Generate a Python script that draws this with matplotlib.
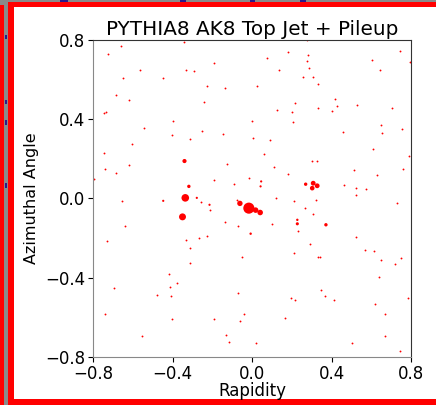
import matplotlib
matplotlib.use("Agg")
import matplotlib.pyplot as plt
from matplotlib.patches import Rectangle

# hard jet constituents: rapidity, azimuth, relative pT
jet_y = [-0.017, 0.017, 0.040, -0.062, -0.337, -0.351, -0.341, -0.319,
         0.307, 0.327, 0.302, 0.269, 0.371, 0.227, 0.227, -0.008,
         0.045, 0.042, -0.279, -0.215, -0.448]
jet_phi = [-0.049, -0.059, -0.071, -0.025, 0.003, -0.093, 0.189, 0.061,
           0.077, 0.064, 0.052, 0.072, -0.133, -0.128, -0.108, -0.178,
           0.086, 0.061, 0.003, -0.032, -0.012]
jet_pt = [64, 16, 16, 15, 30, 25, 9, 6,
          12, 12, 11, 6, 6, 5, 3, 3,
          2.5, 2.5, 2.5, 2.5, 2.5]

# pileup particles, read in pixel-ish order then converted below
pu_zx = [95, 54, 283, 652, 595, 655, 531, 652, 845, 930, 960, 372, 152, 289, 312,
         567, 658, 870, 101, 218, 640, 668, 685, 501, 352, 405, 78, 119, 735, 341,
         614, 800, 740, 726, 907, 43, 50, 562, 605, 685, 250, 485, 610, 872, 162,
         937, 337, 246, 299, 400, 489, 539, 760, 875, 126, 849, 44, 523, 958, 665,
         681, 117, 412, 553, 45, 78, 793, 940, 861, 595, 476, 372, 13, 433, 763,
         799, 828, 797, 558, 611, 922, 98, 441, 333, 359, 677, 646, 668, 545, 406,
         443, 105, 52, 287, 327, 350, 798, 659, 301, 624, 455, 613, 683, 691, 826,
         852, 873, 932, 914, 299, 866, 237, 262, 241, 72, 200, 242, 443, 692, 706,
         602, 614, 733, 954, 855, 45, 461, 884, 371, 451, 246, 585, 156, 409, 416,
         499, 787, 884, 931]
pu_zy = [48, 73, 38, 31, 67, 77, 84, 95, 90, 65, 97, 101, 122, 122, 125,
         122, 114, 122, 145, 144, 141, 143, 164, 170, 170, 175, 196, 211, 207, 217,
         221, 227, 230, 243, 236, 251, 248, 240, 246, 236, 275, 275, 277, 285, 296,
         298, 303, 315, 329, 314, 324, 331, 307, 310, 343, 358, 370, 372, 380, 393,
         393, 405, 404, 411, 418, 430, 420, 419, 437, 434, 444, 451, 449, 463, 467,
         474, 479, 497, 506, 513, 521, 514, 512, 517, 540, 510, 535, 552, 584, 578,
         590, 588, 633, 631, 626, 620, 623, 642, 655, 604, 681, 670, 683, 683, 660,
         663, 692, 684, 702, 700, 741, 733, 761, 773, 776, 796, 798, 790, 781, 800,
         806, 811, 811, 805, 823, 853, 854, 852, 869, 875, 868, 866, 919, 916, 937,
         940, 940, 919, 964]
pu_y = [(v - 487) / 595.6 for v in pu_zx]
pu_phi = [(506 - v) / 594.0 for v in pu_zy]

fig = plt.figure(figsize=(4.36, 4.05), dpi=100, facecolor="#8a8a8a")

W, H = 436.0, 405.0
def frame(x0, y0, x1, y1, color):
    # pixel box (image coords, y down) -> figure fraction
    fig.patches.append(Rectangle((x0 / W, 1 - y1 / H), (x1 - x0) / W, (y1 - y0) / H,
                                 transform=fig.transFigure, color=color, lw=0, zorder=-5))

frame(14, 7, 436, 399, "white")
frame(8, 2, 436, 7, "#ff0000")
frame(8, 2, 14, 405, "#ff0000")
frame(8, 399, 436, 405, "#ff0000")
frame(0, 5, 4, 405, "#ff0000")
# bits of the window behind
for bx, by, bw, bh in [(60, 0, 8, 2), (180, 0, 6, 2), (250, 0, 5, 2), (300, 0, 6, 2),
                       (5, 35, 2, 4), (5, 100, 2, 4), (5, 120, 2, 5), (5, 183, 2, 5)]:
    frame(bx, by, bx + bw, by + bh, "#2a1a8a")

ax = fig.add_axes([0.214, 0.119, 0.729, 0.782])
ax.set_zorder(2)
ax.scatter(pu_y, pu_phi, s=1.8, c="red", linewidths=0)
ax.scatter(jet_y, jet_phi, s=jet_pt, c="red", linewidths=0)

ax.set_xlim(-0.8, 0.8)
ax.set_ylim(-0.8, 0.8)
ticks = [-0.8, -0.4, 0.0, 0.4, 0.8]
ax.set_xticks(ticks)
ax.set_yticks(ticks)
ax.tick_params(labelsize=12, pad=2.5)
ax.set_xlabel("Rapidity", fontsize=12, labelpad=-1)
ax.set_ylabel("Azimuthal Angle", fontsize=11.5)
ax.set_title("PYTHIA8 AK8 Top Jet + Pileup", fontsize=14.4, pad=4)
ax.spines["left"].set_color("#888888")
ax.spines["bottom"].set_color("#888888")
ax.spines["top"].set_color("#333333")
ax.spines["right"].set_color("#333333")

fig.savefig("out.png", dpi=100, facecolor=fig.get_facecolor())
